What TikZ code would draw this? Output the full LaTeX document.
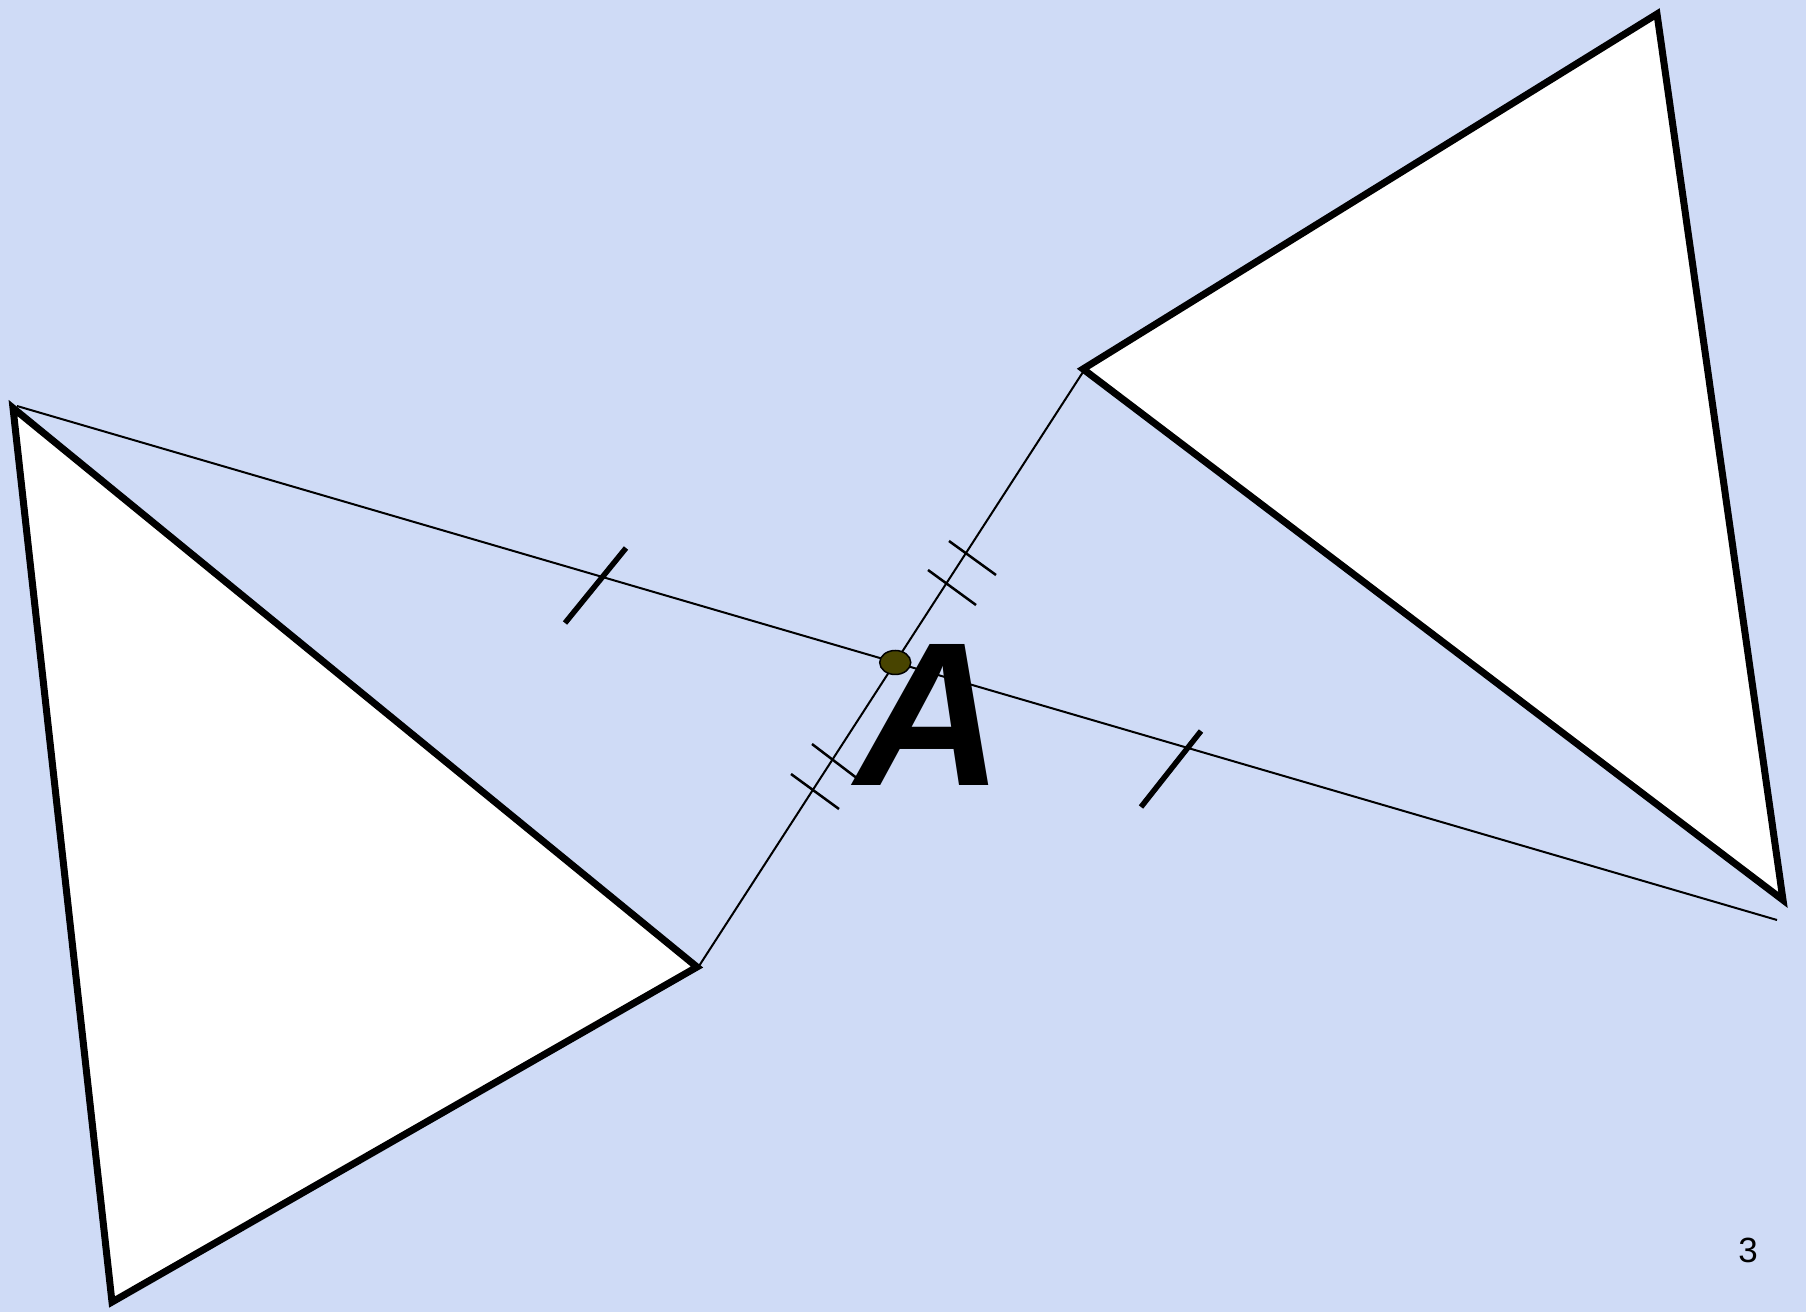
\documentclass[tikz,border=0pt]{standalone}
\usepackage{fontspec}
\setmainfont{Liberation Sans}
\usetikzlibrary{calc,intersections,shapes.geometric}
\definecolor{bgcol}{RGB}{207,219,246}
\definecolor{dotcol}{RGB}{72,68,0}
\begin{document}
\begin{tikzpicture}[x=1pt,y=-1pt,
  tri/.style={draw=black,fill=white,line width=7pt,line join=miter},
  thinline/.style={draw=black,line width=2pt},
  tickone/.style={draw=black,line width=5.5pt},
  ticktwo/.style={draw=black,line width=2.5pt}]
% background
\fill[bgcol] (0,0) rectangle (1806,1312);
\useasboundingbox (0,0) rectangle (1806,1312);
% vertices
\coordinate (L1) at (13,408);
\coordinate (L2) at (112,1302);
\coordinate (L3) at (697,967);
\coordinate (R1) at (1083,369);
\coordinate (R2) at (1657,14);
\coordinate (R3) at (1783,900);
\coordinate (P1) at (17,406);
\coordinate (P2) at (1777,920);
\coordinate (Q1) at (699,966);
\coordinate (Q2) at (1083,372);
% triangles
\draw[tri] (L1) -- (L2) -- (L3) -- cycle;
\draw[tri] (R1) -- (R2) -- (R3) -- cycle;
% lines through A
\draw[thinline, name path=la] (P1) -- (P2);
\draw[thinline, name path=lb] (Q1) -- (Q2);
\path[name intersections={of=la and lb, by=X}];
% single ticks
\coordinate (t1a) at (565,623); \coordinate (t1b) at (626,548);
\coordinate (t2a) at (1141,807); \coordinate (t2b) at (1201,731);
\draw[tickone] (t1a) -- (t1b);
\draw[tickone] (t2a) -- (t2b);
% double ticks
\coordinate (d1a) at (949,541); \coordinate (d1b) at (996,575);
\coordinate (d2a) at (928,570); \coordinate (d2b) at (976,605);
\coordinate (d3a) at (812,744); \coordinate (d3b) at (858,779);
\coordinate (d4a) at (791,774); \coordinate (d4b) at (839,809);
\draw[ticktwo] (d1a) -- (d1b);
\draw[ticktwo] (d2a) -- (d2b);
\draw[ticktwo] (d3a) -- (d3b);
\draw[ticktwo] (d4a) -- (d4b);
% point A
\node[draw=black,line width=1.5pt,fill=dotcol,ellipse,minimum width=31pt,minimum height=24pt,inner sep=0pt] (dot) at (X) {};
\node[anchor=base,inner sep=0pt,font=\bfseries\itshape\fontsize{205}{205}\selectfont] (labA) at (930,785) {A};
% page number
\node[anchor=base,inner sep=0pt,font=\fontsize{35}{35}\selectfont] (pg) at (1748,1262) {3};
\end{tikzpicture}
\end{document}
